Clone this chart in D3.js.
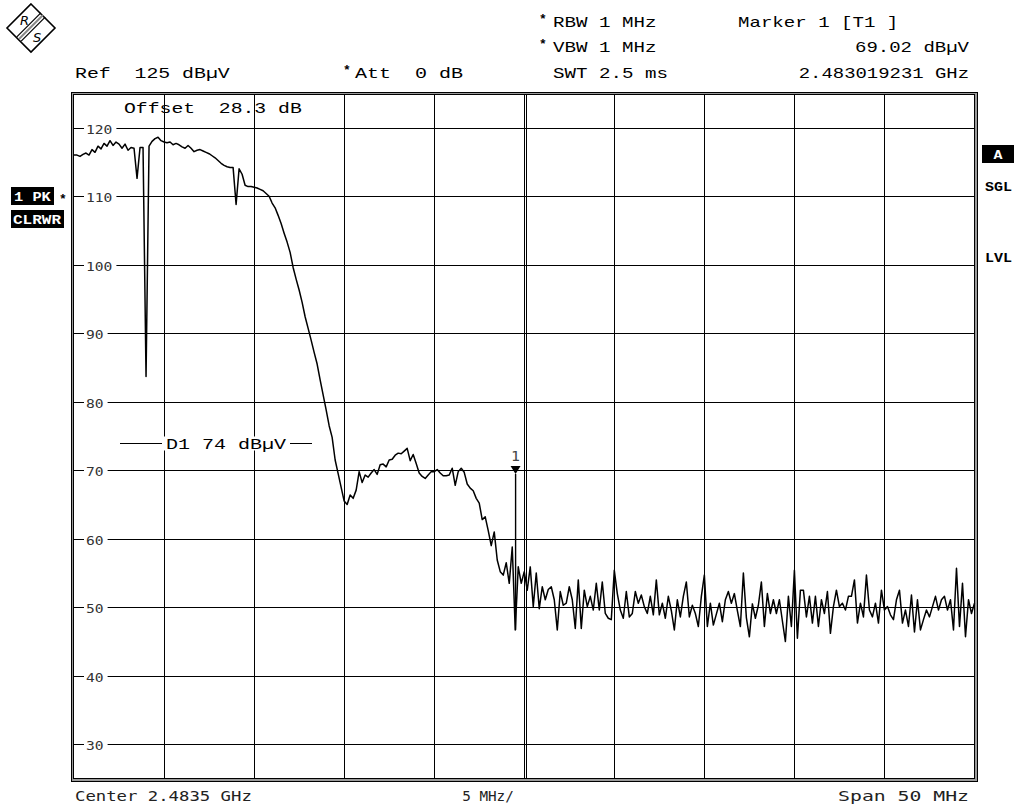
<!DOCTYPE html>
<html><head><meta charset="utf-8">
<script src="https://cdn.jsdelivr.net/npm/d3@7"></script>
<style>body{margin:0;background:#fff;} svg{display:block;} text{white-space:pre;}</style>
</head><body>
<svg id="chart" width="1014" height="808"></svg>
<script>
// ---------------- data ----------------
const sweepStartMHz = 2458.5;
const sweepStopMHz = 2508.5;
const divisionMHz = 5;
const refLevel = 125;
const bottomLevel = 25;
const yTicks = [120, 110, 100, 90, 80, 70, 60, 50, 40, 30];
const displayLineLevel = 74;
const markerFreqMHz = 2483.019231;
const markerLevel = 69.02;
const markerStemLow = 46.7;
// trace levels (dBµV), 301 sweep points from start to stop
const traceLevels = [
 116.0,116.0,115.8,116.1,116.3,116.0,116.8,116.4,117.3,116.9,
 117.7,117.3,118.1,117.4,117.9,117.6,117.0,117.6,116.7,117.1,
 117.0,112.6,117.1,117.1,83.7,117.3,118.0,118.4,118.6,118.1,
 117.9,117.8,117.9,117.5,117.7,117.5,117.2,117.0,117.4,117.0,
 116.5,116.7,116.8,116.6,116.4,116.2,115.9,115.6,115.2,114.8,
 114.5,114.3,114.2,114.2,108.8,114.0,113.2,111.6,111.4,111.4,
 111.3,111.2,111.0,110.8,110.4,110.0,109.0,108.3,107.2,106.0,
 104.6,103.3,101.8,99.6,97.9,96.3,94.5,92.4,90.7,89.0,
 87.2,85.5,83.2,81.0,78.8,76.5,74.8,71.5,69.5,67.5,
 65.5,65.0,66.4,65.9,67.1,69.8,68.2,69.3,69.0,69.6,
 70.1,69.4,70.8,70.9,70.5,71.5,71.6,72.2,72.5,72.4,
 72.8,73.2,71.4,72.3,71.0,69.6,69.1,68.8,69.3,69.8,
 69.8,70.1,69.6,69.2,69.2,69.3,70.3,67.8,69.8,70.3,
 69.7,68.0,67.4,67.0,65.9,65.2,62.8,63.2,61.2,59.0,
 61.0,56.9,55.2,54.7,56.5,53.5,58.8,46.7,55.9,53.5,
 55.2,52.5,55.9,50.1,55.0,49.8,53.0,51.1,52.6,53.0,
 51.1,46.7,52.3,50.3,50.6,53.0,51.1,46.9,54.0,46.9,
 52.5,50.1,51.6,49.6,53.5,49.6,53.7,49.1,48.4,48.2,
 55.4,52.0,49.6,48.4,52.3,48.6,49.1,52.3,50.6,51.8,
 50.1,49.1,51.6,48.9,54.0,48.9,50.6,48.4,51.6,49.5,
 46.7,51.1,48.6,51.6,53.7,48.6,50.3,49.1,47.2,51.6,
 54.7,47.2,50.6,47.4,49.0,50.6,47.9,51.1,52.3,50.6,
 52.0,49.5,47.2,55.0,48.5,45.7,50.5,48.4,50.3,53.7,
 47.2,52.0,49.1,51.1,49.1,51.1,48.0,45.0,51.6,47.2,
 55.4,45.5,52.5,52.5,48.6,51.6,47.7,51.6,47.2,51.1,
 49.1,52.3,46.2,50.1,52.5,50.1,50.6,49.6,51.6,51.6,
 54.0,47.7,50.6,48.6,54.7,49.6,48.6,50.6,47.7,52.5,
 49.6,50.1,48.9,48.2,51.1,52.5,47.7,49.6,47.2,51.8,
 46.4,51.1,46.7,48.2,49.6,48.6,50.1,51.6,49.6,51.1,
 51.6,49.6,51.1,46.7,55.7,47.2,53.5,45.7,51.1,49.1,
 50.6
];
const headerLeft = ["Ref  125 dBµV", "Att  0 dB"];
const headerMid = ["RBW 1 MHz", "VBW 1 MHz", "SWT 2.5 ms"];
const headerRight = ["Marker 1 [T1 ]", "69.02 dBµV", "2.483019231 GHz"];
const offsetText = "Offset  28.3 dB";
const displayLineText = "D1 74 dBµV";
const footerTexts = ["Center 2.4835 GHz", "5 MHz/", "Span 50 MHz"];
const leftBadges = ["1 PK", "CLRWR"];
const rightBadges = ["A", "SGL", "LVL"];

// ---------------- drawing ----------------
const svg = d3.select("#chart");
const X0 = 74, X1 = 974.5, YT = 93.4, YB = 778.6;
const x = d3.scaleLinear().domain([sweepStartMHz, sweepStopMHz]).range([X0, X1]);
const y = d3.scaleLinear().domain([bottomLevel, refLevel]).range([YB, YT]);

const MONO = "'Liberation Mono', 'DejaVu Sans Mono', monospace";
const SMONO = "'DejaVu Sans Mono', monospace";

function stext(g, str, px, py, adv, size, anchor, family, fill, weight) {
  return g.append("text")
    .attr("x", px).attr("y", py)
    .attr("xml:space", "preserve")
    .attr("font-family", family || MONO)
    .attr("font-size", size)
    .attr("font-weight", weight || "normal")
    .attr("fill", fill || "#000")
    .attr("text-anchor", anchor || "start")
    .attr("textLength", str.length * adv)
    .attr("lengthAdjust", "spacingAndGlyphs")
    .text(str);
}

// logo
const logo = svg.append("g");
logo.append("path").attr("d", "M31,4 L55,28 L31,52 L7,28 Z")
  .attr("fill", "none").attr("stroke", "#000").attr("stroke-width", 1.6);
[-2.2, 0, 2.2].forEach((o, k) => {
  logo.append("line")
    .attr("x1", 43 + o).attr("y1", 15 + o).attr("x2", 19 + o).attr("y2", 39 + o)
    .attr("stroke", k === 1 ? "#888" : "#000").attr("stroke-width", k === 1 ? 2 : 1.2);
});
logo.append("text").attr("x", 20).attr("y", 25).attr("font-family", "'DejaVu Sans', sans-serif")
  .attr("font-size", 13).attr("font-style", "italic").text("R");
logo.append("text").attr("x", 33).attr("y", 42).attr("font-family", "'DejaVu Sans', sans-serif")
  .attr("font-size", 13).attr("font-style", "italic").text("S");

// header
const ADV = 11.5;
stext(svg, headerLeft[0], 75, 78, 11.9, 15);
svg.append("text").attr("x", 343).attr("y", 74).attr("font-family", MONO).attr("font-size", 13)
  .attr("font-weight", "bold").text("*");
stext(svg, headerLeft[1], 355, 78, 12, 15);
const midY = [27, 52, 78];
headerMid.forEach((t, i) => stext(svg, t, 553, midY[i], ADV, 15));
[0, 1].forEach(i => svg.append("text").attr("x", 539).attr("y", midY[i] - 4)
  .attr("font-family", MONO).attr("font-size", 13).attr("font-weight", "bold").text("*"));
stext(svg, headerRight[0], 738, midY[0], 11.45, 15);
stext(svg, headerRight[1], 969, midY[1], 11.4, 15, "end");
stext(svg, headerRight[2], 969, midY[2], 11.35, 15, "end");

// frame
svg.append("rect").attr("x", 71.5).attr("y", 92.5).attr("width", 906).attr("height", 689)
  .attr("fill", "#9a9a9a").attr("stroke", "#000").attr("stroke-width", 1);
svg.append("rect").attr("x", 73.5).attr("y", 94.5).attr("width", 901).attr("height", 684)
  .attr("fill", "#fff").attr("stroke", "#000").attr("stroke-width", 1);

const plot = svg.append("g");
// vertical grid
const vgrid = d3.range(1, 10).map(k => sweepStartMHz + k * divisionMHz);
plot.selectAll("line.vg").data(vgrid).join("line")
  .attr("x1", d => Math.round(x(d)) + 0.5).attr("x2", d => Math.round(x(d)) + 0.5)
  .attr("y1", 95).attr("y2", 778).attr("stroke", "#000").attr("stroke-width", 1);
// center double line
const cx = Math.round(x((sweepStartMHz + sweepStopMHz) / 2)) + 2.5;
plot.append("line").attr("x1", cx).attr("x2", cx).attr("y1", 95).attr("y2", 778)
  .attr("stroke", "#000").attr("stroke-width", 1);

// horizontal grid
plot.selectAll("line.hg").data(yTicks).join("line")
  .attr("x1", 74).attr("x2", 974)
  .attr("y1", d => Math.round(y(d)) + 0.5).attr("y2", d => Math.round(y(d)) + 0.5)
  .attr("stroke", "#000").attr("stroke-width", 1);

// y labels with white gap
yTicks.forEach(d => {
  const s = String(d);
  const w = s.length * 8.8;
  const yy = Math.round(y(d)) + 0.5;
  plot.append("rect").attr("x", 84).attr("y", yy - 6).attr("width", w + 6).attr("height", 12).attr("fill", "#fff");
  stext(plot, s, 86, yy + 5, 8.8, 13, "start", SMONO, "#333");
});

// offset text
stext(plot, offsetText, 124, 113, 11.85, 15);

// display line D1
const dy = Math.round(y(displayLineLevel)) + 0.5;
plot.append("line").attr("x1", 120).attr("x2", 312).attr("y1", dy).attr("y2", dy)
  .attr("stroke", "#000").attr("stroke-width", 1);
plot.append("rect").attr("x", 162).attr("y", dy - 7).attr("width", 128).attr("height", 14).attr("fill", "#fff");
stext(plot, displayLineText, 166, dy + 5, 12, 15);

// trace
const N = traceLevels.length;
const stepMHz = (sweepStopMHz - sweepStartMHz) / (N - 1);
const line = d3.line().x((d, i) => x(sweepStartMHz + i * stepMHz)).y(d => y(d));
plot.append("path").datum(traceLevels).attr("d", line)
  .attr("fill", "none").attr("stroke", "#000").attr("stroke-width", 1.5).attr("stroke-linejoin", "round");

// marker
const mx = x(markerFreqMHz);
const my = y(markerLevel) - 3;
plot.append("line").attr("x1", mx).attr("x2", mx).attr("y1", my).attr("y2", y(markerStemLow))
  .attr("stroke", "#000").attr("stroke-width", 1.4);
plot.append("path").attr("d", `M${mx - 5},${my - 8} L${mx + 5},${my - 8} L${mx},${my} Z`).attr("fill", "#000");
stext(plot, "1", mx, my - 13, 9, 14, "middle", SMONO, "#444");

// footer
stext(svg, footerTexts[0], 75, 801, 10.4, 14, "start", SMONO, "#222");
stext(svg, footerTexts[1], 488, 801, 8.6, 14, "middle", SMONO, "#222");
stext(svg, footerTexts[2], 969, 801, 11.9, 14, "end", SMONO, "#222");

// badges left
svg.append("rect").attr("x", 11).attr("y", 187).attr("width", 43).attr("height", 18).attr("fill", "#000");
stext(svg, leftBadges[0], 14, 201, 9.2, 12, "start", MONO, "#fff", "bold");
svg.append("text").attr("x", 59).attr("y", 203).attr("font-family", MONO).attr("font-size", 13)
  .attr("font-weight", "bold").text("*");
svg.append("rect").attr("x", 11).attr("y", 210).attr("width", 53).attr("height", 18).attr("fill", "#000");
stext(svg, leftBadges[1], 13, 224, 9.6, 12, "start", MONO, "#fff", "bold");

// badges right
svg.append("rect").attr("x", 982).attr("y", 145).attr("width", 32).attr("height", 18).attr("fill", "#000");
stext(svg, rightBadges[0], 998, 159, 9, 12, "middle", MONO, "#fff", "bold");
stext(svg, rightBadges[1], 985, 191, 9, 12, "start", MONO, "#000", "bold");
stext(svg, rightBadges[2], 985, 262, 9, 12, "start", MONO, "#000", "bold");
</script>
</body></html>
